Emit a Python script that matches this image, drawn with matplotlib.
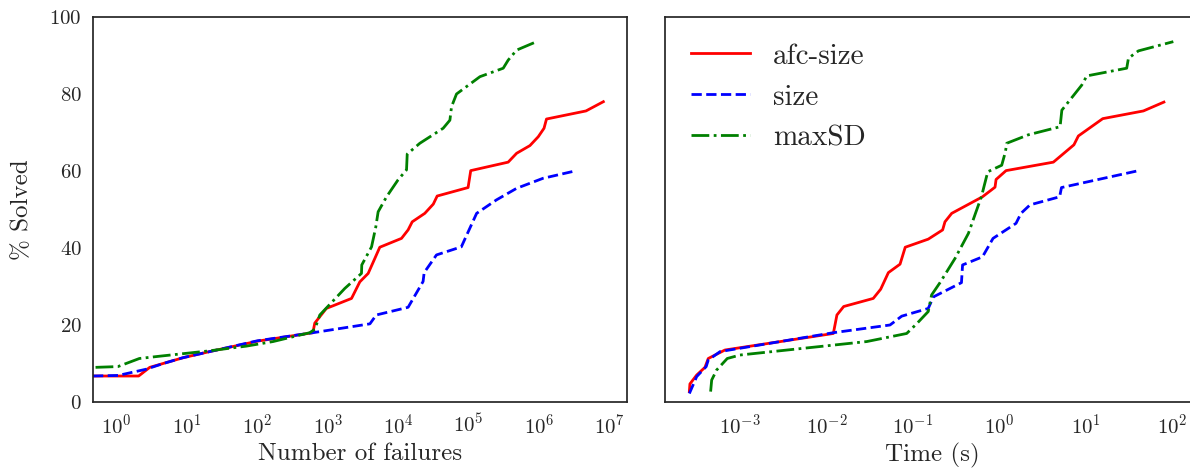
import numpy as np
import matplotlib
matplotlib.use("Agg")
import matplotlib.pyplot as plt

plt.rcParams['font.family'] = 'serif'
plt.rcParams['font.serif'] = ['cmr10']
plt.rcParams['mathtext.fontset'] = 'cm'
plt.rcParams['axes.unicode_minus'] = False
plt.rcParams['axes.formatter.use_mathtext'] = True

# --- left panel: % solved vs number of failures ---
fail_afc_x = [0.46, 2.05, 2.95, 8.8, 21, 100, 615, 655, 955, 2180, 2860, 3760, 4680, 5500,
              11200, 13900, 15900, 24000, 31700, 36000, 99000, 108000, 368000, 485000,
              750000, 985000, 1.19e6, 1.29e6, 4.7e6, 8.3e6]
fail_afc_y = [6.75, 6.75, 9.0, 11.5, 13.1, 15.8, 18.0, 20.5, 24.3, 26.9, 31.2, 33.4, 37.3, 40.2,
              42.5, 44.7, 46.8, 49.0, 51.4, 53.5, 55.7, 60.1, 62.3, 64.6,
              66.6, 68.9, 71.1, 73.5, 75.6, 78.0]

fail_size_x = [0.46, 1.05, 2.6, 4.6, 8.7, 100, 617, 3980, 4900, 13900, 22700, 23500, 35200,
               79400, 131000, 251000, 485000, 1.15e6, 3.27e6]
fail_size_y = [6.75, 6.9, 8.5, 10.0, 11.5, 15.9, 18.0, 20.3, 22.6, 24.6, 31.3, 33.6, 38.2,
               40.3, 49.0, 52.5, 55.5, 58.1, 60.0]

fail_maxsd_x = [0.5, 1.04, 2.1, 4.1, 21, 69, 167, 556, 655, 772, 1750, 3020, 3050, 4200, 4830,
                5210, 6860, 10000, 13200, 13500, 20400, 43800, 54600, 57600, 67800,
                146000, 313000, 368000, 485000, 933000]
fail_maxsd_y = [9.0, 9.2, 11.3, 11.9, 13.3, 14.5, 15.7, 18.0, 18.9, 22.6, 29.5, 33.4, 35.6, 40.3, 45.5,
                49.4, 53.3, 57.7, 60.3, 64.4, 67.2, 71.1, 73.2, 76.7, 80.0,
                84.5, 86.7, 88.8, 91.4, 93.6]

# --- right panel: % solved vs time ---
time_afc_x = [2.6e-4, 2.64e-4, 3.16e-4, 3.94e-4, 4.3e-4, 6.7e-4, 0.0120, 0.0132, 0.0158, 0.0347,
              0.0423, 0.0519, 0.0708, 0.0813, 0.150, 0.220, 0.234, 0.280, 0.635, 0.887, 0.912,
              1.19, 4.19, 7.24, 8.15, 15.6, 46.0, 79.4]
time_afc_y = [2.7, 4.7, 7.0, 9.0, 11.3, 13.5, 17.8, 22.6, 24.8, 26.9,
              29.3, 33.6, 35.8, 40.2, 42.3, 44.7, 46.8, 49.0, 53.3, 55.8, 57.8,
              60.1, 62.3, 66.8, 69.1, 73.6, 75.6, 77.9]

time_size_x = [2.6e-4, 3.16e-4, 4.07e-4, 4.3e-4, 5.9e-4, 0.012, 0.0542, 0.0741, 0.150, 0.172,
               0.363, 0.374, 0.635, 0.841, 1.55, 1.77, 2.25, 4.95, 5.2, 40.6]
time_size_y = [2.2, 6.6, 9.2, 10.9, 13.1, 18.0, 20.0, 22.3, 24.3, 27.3,
               31.0, 35.6, 37.7, 42.5, 46.4, 49.0, 51.2, 53.3, 55.7, 60.1]

time_maxsd_x = [4.58e-4, 4.71e-4, 5.37e-4, 7.13e-4, 1.0e-3, 0.0292, 0.0845, 0.110, 0.150, 0.164,
                0.205, 0.306, 0.437, 0.527, 0.617, 0.731, 1.06, 1.17, 1.21, 2.15, 5.01, 5.25,
                8.91, 10.2, 29.5, 30.9, 40.3, 102]
time_maxsd_y = [2.7, 5.7, 8.3, 11.3, 12.2, 15.7, 17.8, 20.3, 23.5, 27.8,
                31.0, 37.3, 43.8, 49.0, 53.3, 59.8, 61.5, 65.0, 67.2, 69.4, 71.5, 75.8,
                82.3, 84.7, 86.7, 89.3, 91.2, 93.6]

yticks = [0, 20, 40, 60, 80, 100]

fig = plt.figure(figsize=(11.9, 4.69), dpi=100)
W, H = 1190, 469
ax1 = fig.add_axes([93 / W, 67 / H, 534 / W, 385 / H])
ax2 = fig.add_axes([665 / W, 67 / H, 534 / W, 385 / H], sharey=ax1)

lw = 2
for ax in (ax1, ax2):
    for s in ax.spines.values():
        s.set_color('#262626')
        s.set_linewidth(1.25)
    ax.tick_params(length=0, labelsize=15, colors='#262626', pad=8)

ax1.plot(fail_afc_x, fail_afc_y, '-', color='red', lw=lw, label='afc-size')
ax1.plot(fail_size_x, fail_size_y, '--', color='blue', lw=lw, label='size')
ax1.plot(fail_maxsd_x, fail_maxsd_y, '-.', color='green', lw=lw, label='maxSD')
ax1.set_xscale('log')
ax1.set_xlim(0.46, 1.8e7)
ax1.set_ylim(0, 100)
ax1.set_yticks(yticks)
ax1.set_xticks([10.0 ** k for k in range(0, 8)])
ax1.minorticks_off()
ax1.set_xlabel('Number of failures', fontsize=18, color='#262626')
ax1.set_ylabel('% Solved', fontsize=18, color='#262626', labelpad=12)

ax2.plot(time_afc_x, time_afc_y, '-', color='red', lw=lw, label='afc-size')
ax2.plot(time_size_x, time_size_y, '--', color='blue', lw=lw, label='size')
ax2.plot(time_maxsd_x, time_maxsd_y, '-.', color='green', lw=lw, label='maxSD')
ax2.set_xscale('log')
ax2.set_xlim(1.36e-4, 202)
ax2.set_xticks([10.0 ** k for k in range(-3, 3)])
ax2.minorticks_off()
ax2.tick_params(labelleft=False)
ax2.set_xlabel('Time (s)', fontsize=18, color='#262626')
leg = ax2.legend(loc='upper left', frameon=False, fontsize=21)
for t in leg.get_texts():
    t.set_color('#262626')

fig.savefig('out.png', dpi=100)
